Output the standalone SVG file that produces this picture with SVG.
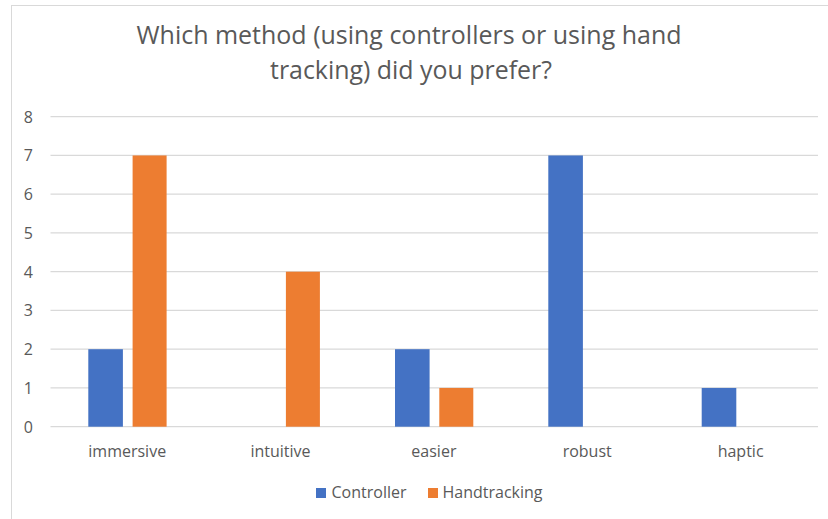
<svg xmlns="http://www.w3.org/2000/svg" width="828" height="519" viewBox="0 0 828 519">
  <style>
    text { font-family: "Open Sans", "Liberation Sans", sans-serif; fill: #595959; }
    .title { font-size: 25px; text-anchor: middle; }
    .ytick { font-size: 16px; text-anchor: end; }
    .cat { font-size: 16px; text-anchor: middle; }
    .leg { font-size: 16px; }
    .grid { stroke: #d9d9d9; stroke-width: 1.2; fill: none; }
    .ctrl { fill: #4472C4; }
    .hand { fill: #ED7D31; }
  </style>
  <rect x="0" y="0" width="828" height="519" fill="#ffffff"/>
  <rect id="chart-border" x="11.5" y="5.5" width="900" height="600" fill="none" stroke="#d9d9d9" stroke-width="1"/>

  <g id="title">
    <text class="title" x="409" y="44" textLength="545" lengthAdjust="spacingAndGlyphs">Which method (using controllers or using hand</text>
    <text class="title" x="411" y="79" textLength="282" lengthAdjust="spacingAndGlyphs">tracking) did you prefer?</text>
  </g>

  <g id="gridlines">
    <line class="grid" x1="50.5" y1="116.7" x2="818" y2="116.7"/>
    <line class="grid" x1="50.5" y1="155.45" x2="818" y2="155.45"/>
    <line class="grid" x1="50.5" y1="194.2" x2="818" y2="194.2"/>
    <line class="grid" x1="50.5" y1="232.95" x2="818" y2="232.95"/>
    <line class="grid" x1="50.5" y1="271.7" x2="818" y2="271.7"/>
    <line class="grid" x1="50.5" y1="310.45" x2="818" y2="310.45"/>
    <line class="grid" x1="50.5" y1="349.2" x2="818" y2="349.2"/>
    <line class="grid" x1="50.5" y1="387.95" x2="818" y2="387.95"/>
    <line class="grid" x1="50.5" y1="426.7" x2="818" y2="426.7"/>
  </g>

  <g id="y-axis-labels">
    <text class="ytick" x="33" y="122.7">8</text>
    <text class="ytick" x="33" y="161.45">7</text>
    <text class="ytick" x="33" y="200.2">6</text>
    <text class="ytick" x="33" y="238.95">5</text>
    <text class="ytick" x="33" y="277.7">4</text>
    <text class="ytick" x="33" y="316.45">3</text>
    <text class="ytick" x="33" y="355.2">2</text>
    <text class="ytick" x="33" y="393.95">1</text>
    <text class="ytick" x="33" y="432.7">0</text>
  </g>

  <g id="cat-immersive">
    <rect class="ctrl" x="88.3" y="349.2" width="34.6" height="77.5"/>
    <rect class="hand" x="132.6" y="155.45" width="34" height="271.25"/>
    <text class="cat" x="127.2" y="457">immersive</text>
  </g>
  <g id="cat-intuitive">
    <rect class="hand" x="285.9" y="271.7" width="34" height="155"/>
    <text class="cat" x="280.5" y="457">intuitive</text>
  </g>
  <g id="cat-easier">
    <rect class="ctrl" x="395" y="349.2" width="34.6" height="77.5"/>
    <rect class="hand" x="439.3" y="387.95" width="34" height="38.75"/>
    <text class="cat" x="433.9" y="457">easier</text>
  </g>
  <g id="cat-robust">
    <rect class="ctrl" x="548.3" y="155.45" width="34.6" height="271.25"/>
    <text class="cat" x="587.2" y="457">robust</text>
  </g>
  <g id="cat-haptic">
    <rect class="ctrl" x="701.7" y="387.95" width="34.6" height="38.75"/>
    <text class="cat" x="740.6" y="457">haptic</text>
  </g>

  <g id="legend">
    <rect class="ctrl" x="316" y="488" width="10" height="10"/>
    <text class="leg" x="331.5" y="498">Controller</text>
    <rect class="hand" x="428" y="488" width="10" height="10"/>
    <text class="leg" x="442.5" y="498">Handtracking</text>
  </g>

  <g id="connectors"></g>
</svg>
